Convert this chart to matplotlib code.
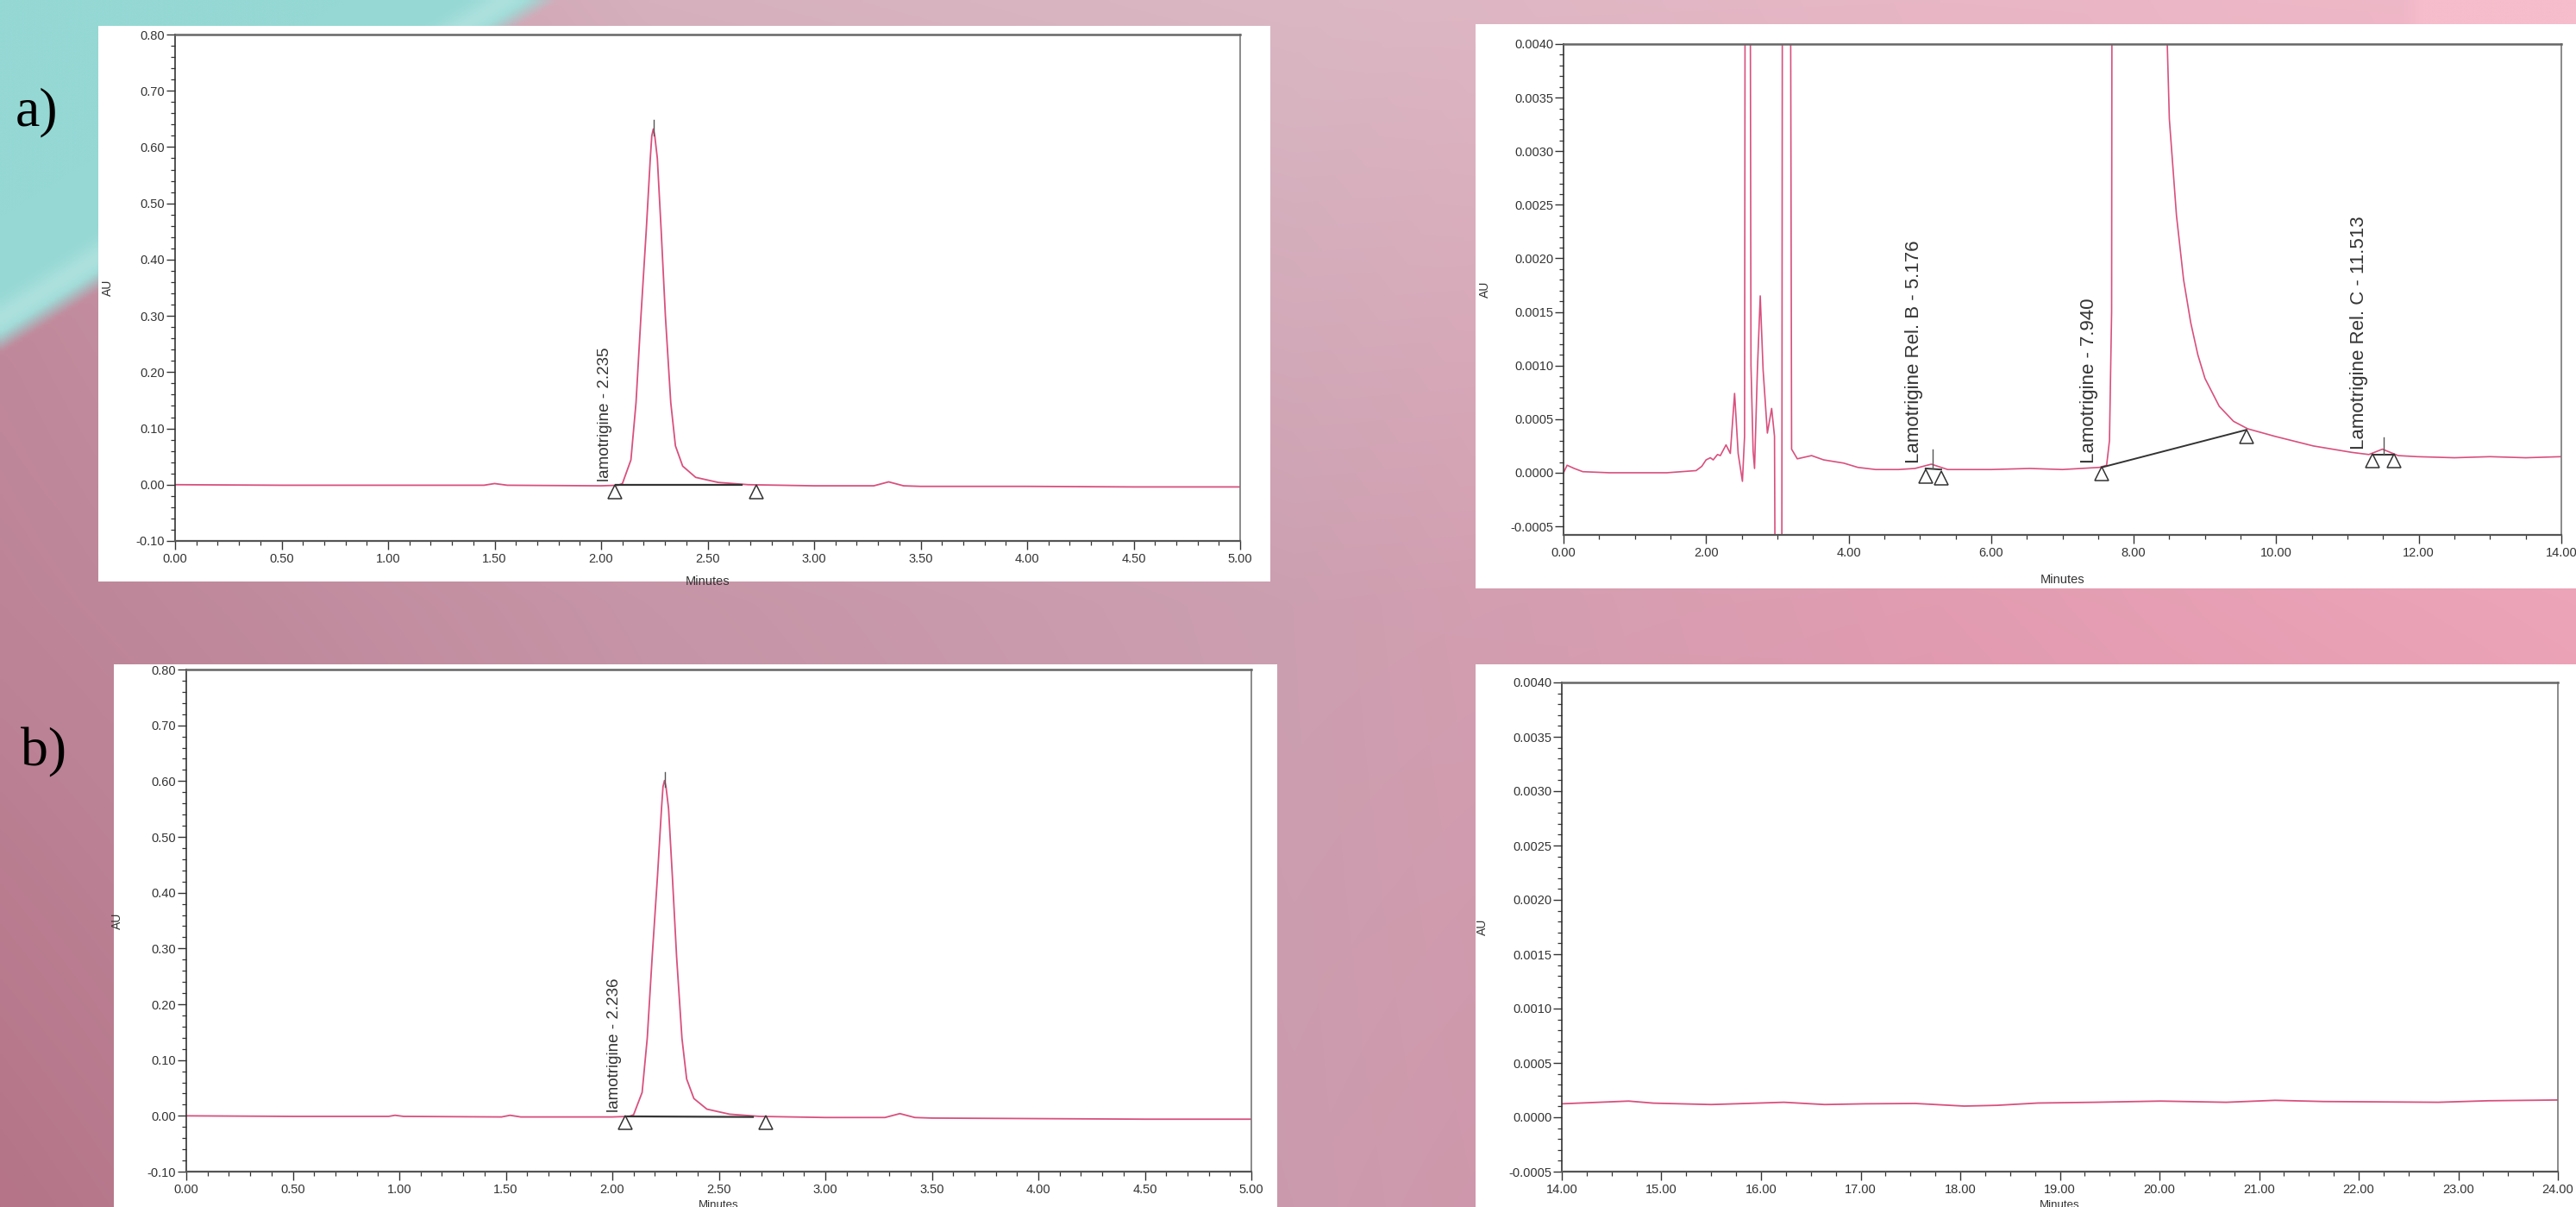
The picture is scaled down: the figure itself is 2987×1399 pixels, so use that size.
import matplotlib
matplotlib.use('Agg')
import matplotlib.pyplot as plt
from matplotlib.patches import Rectangle
from matplotlib.ticker import MultipleLocator, FormatStrFormatter
import numpy as np

W, H = 2987, 1399

# ---- a) left : sample run, 0-5 min ----
t_a = [0.00, 0.50, 1.00, 1.45, 1.50, 1.56, 2.00, 2.08, 2.10, 2.14, 2.164, 2.187, 2.212, 2.231,
       2.238, 2.245, 2.252, 2.264, 2.282, 2.302, 2.327, 2.349, 2.383, 2.444, 2.55, 2.69,
       3.00, 3.28, 3.35, 3.42, 3.50, 4.00, 4.50, 5.00]
au_a = [0.000, -0.001, -0.001, -0.001, 0.002, -0.001, -0.002, -0.001, 0.002, 0.044, 0.146, 0.299,
        0.452, 0.580, 0.620, 0.632, 0.620, 0.580, 0.452, 0.299, 0.146, 0.069, 0.033, 0.013,
        0.004, 0.000, -0.002, -0.002, 0.005, -0.002, -0.003, -0.003, -0.004, -0.004]
label_a = 'lamotrigine - 2.235'
label_pos_a = (2.02, 0.006)
tri_t_a = [2.065, 2.73]
tri_au_a = [-0.013, -0.013]
base_t_a = [2.07, 2.66]
base_au_a = [-0.001, -0.001]
apex_a = (2.245, 0.620, 0.648)

# ---- b) left : second run, 0-5 min ----
t_b = [0.00, 0.50, 0.95, 0.98, 1.02, 1.48, 1.52, 1.57, 2.00, 2.08, 2.10, 2.14, 2.164, 2.187,
       2.212, 2.231, 2.238, 2.245, 2.252, 2.264, 2.282, 2.302, 2.327, 2.349, 2.383, 2.444,
       2.55, 2.69, 3.00, 3.28, 3.35, 3.42, 3.50, 4.00, 4.50, 5.00]
au_b = [0.000, -0.001, -0.001, 0.001, -0.001, -0.002, 0.001, -0.002, -0.002, -0.001, 0.002, 0.042,
        0.139, 0.284, 0.429, 0.551, 0.590, 0.601, 0.590, 0.551, 0.429, 0.284, 0.139, 0.066,
        0.031, 0.012, 0.003, -0.001, -0.003, -0.003, 0.004, -0.003, -0.004, -0.005, -0.006, -0.006]
label_b = 'lamotrigine - 2.236'
label_pos_b = (2.01, 0.006)
tri_t_b = [2.06, 2.72]
tri_au_b = [-0.012, -0.012]
base_t_b = [2.07, 2.66]
base_au_b = [-0.001, -0.002]
apex_b = (2.245, 0.590, 0.616)

# ---- a) right : impurities, 0-14 min ----
t_c = [0.00, 0.05, 0.15, 0.27, 0.64, 1.45, 1.86, 1.94, 2.00, 2.06, 2.10, 2.16, 2.20, 2.28, 2.34,
       2.40, 2.45, 2.51, 2.54, 2.56, 2.60, 2.63, 2.66, 2.68, 2.72, 2.76, 2.80, 2.86, 2.92, 2.96,
       2.98, 3.06, 3.08, 3.16, 3.20, 3.28, 3.48, 3.65, 3.93, 4.13, 4.38, 4.70, 4.93, 5.16, 5.39,
       6.00, 6.54, 7.00, 7.52, 7.62, 7.66, 7.69, 7.72, 8.40, 8.45, 8.50, 8.60, 8.70, 8.80, 8.90,
       9.00, 9.20, 9.40, 9.60, 9.98, 10.52, 11.06, 11.30, 11.49, 11.71, 11.98, 12.50, 13.00,
       13.50, 14.00]
au_c = [0.00000, 0.00007, 0.00004, 0.00001, 0.00000, 0.00000, 0.00002, 0.00006, 0.00012, 0.00014,
        0.00012, 0.00017, 0.00016, 0.00026, 0.00018, 0.00074, 0.00018, -0.00008, 0.00034, 0.01200,
        0.01200, 0.00100, 0.00020, 0.00004, 0.00096, 0.00165, 0.00096, 0.00037, 0.00060, 0.00034,
        -0.00300, -0.00300, 0.01200, 0.01200, 0.00022, 0.00013, 0.00016, 0.00012, 0.00009, 0.00005,
        0.00003, 0.00003, 0.00004, 0.00008, 0.00003, 0.00003, 0.00004, 0.00003, 0.00005, 0.00007,
        0.00030, 0.00150, 0.02000, 0.02000, 0.00450, 0.00330, 0.00240, 0.00180, 0.00140, 0.00110,
        0.00088, 0.00062, 0.00048, 0.00041, 0.00034, 0.00025, 0.00019, 0.00017, 0.00022, 0.00016,
        0.00015, 0.00014, 0.00015, 0.00014, 0.00015]
labels_c = ['Lamotrigine Rel. B - 5.176', 'Lamotrigine - 7.940', 'Lamotrigine Rel. C - 11.513']
label_t_c = [4.92, 7.37, 11.16]
label_au_c = [0.00009, 0.00009, 0.00022]
tri_t_c = [5.08, 5.30, 7.55, 9.58, 11.35, 11.65]
tri_au_c = [-0.00003, -0.00005, -0.00001, 0.00034, 0.00011, 0.00011]
base_t_c = [[5.08, 5.30], [7.55, 9.58], [11.35, 11.65]]
base_au_c = [[0.00004, 0.00003], [0.00005, 0.00040], [0.00017, 0.00017]]
apex_c = [(5.176, 0.00004, 0.00022), (11.513, 0.00017, 0.00033)]

# ---- b) right : blank, 14-24 min ----
t_d = [14.00, 14.67, 14.92, 15.50, 16.23, 16.64, 17.05, 17.55, 18.04, 18.37, 18.78, 19.35,
       20.01, 20.67, 21.16, 21.65, 22.15, 22.80, 23.30, 24.00]
au_d = [0.000124, 0.000149, 0.000130, 0.000117, 0.000138, 0.000117, 0.000124, 0.000127, 0.000103,
        0.000110, 0.000131, 0.000138, 0.000149, 0.000138, 0.000156, 0.000145, 0.000142, 0.000138,
        0.000152, 0.000159]

TRACE = '#d9507f'
INK = '#333333'

plt.rcParams['font.family'] = ['Liberation Sans', 'DejaVu Sans']

fig = plt.figure(figsize=(W / 100, H / 100), dpi=100)


# background: pink/mauve gradient with a teal corner
def hex2rgb(h):
    return np.array([int(h[i:i + 2], 16) for i in (1, 3, 5)]) / 255.0


gx = [0, 750, 1500, 2250, 2987]
gy = [0, 700, 1399]
grid = [['#c48fa0', '#d6b0bd', '#dab7c3', '#e8b6c5', '#f1b8c8'],
        ['#bd8497', '#c695a7', '#cc9fb0', '#e29cb1', '#eca4b8'],
        ['#b57488', '#c08c9f', '#cb9bad', '#d98fa7', '#e498ae']]
G = np.array([[hex2rgb(c) for c in row] for row in grid])
xs = np.linspace(0, W, 600)
ys = np.linspace(0, H, 280)
img = np.zeros((len(ys), len(xs), 3))
for k in range(3):
    rows = np.array([np.interp(xs, gx, G[r, :, k]) for r in range(3)])
    img[:, :, k] = np.array([np.interp(ys, gy, rows[:, i]) for i in range(len(xs))]).T
X, Y = np.meshgrid(xs, ys)
d = X / 625 + Y / 395
w = np.clip((1.0 - d) / 0.06 + 0.5, 0, 1)
teal = hex2rgb('#95d8d4')
img = img * (1 - w[..., None]) + teal * w[..., None]
stripe = 0.22 * np.exp(-((d - 0.93) / 0.05) ** 2)
img = img + (1 - img) * stripe[..., None]
corner = np.clip((X - 2790) / 20, 0, 1) * (Y < 60)
img = img * (1 - corner[..., None]) + hex2rgb('#f6bdcc') * corner[..., None]

ax_bg = fig.add_axes([0, 0, 1, 1])
ax_bg.imshow(img, extent=[0, W, H, 0], aspect='auto', interpolation='bilinear')
ax_bg.axis('off')
ax_bg.set_zorder(-2)


def card(x0, y0, x1, y1):
    fig.add_artist(Rectangle((x0 / W, 1 - y1 / H), (x1 - x0) / W, (y1 - y0) / H,
                             transform=fig.transFigure, facecolor='white',
                             edgecolor='none', zorder=-1))


def add_ax(x0, y0, x1, y1):
    return fig.add_axes([x0 / W, 1 - y1 / H, (x1 - x0) / W, (y1 - y0) / H])


def style(ax, box, xlim, ylim, xstep, xminor, ystep, yminor, xfmt, yfmt, ylab_px, xlab_px,
          xlab_size=10.5):
    x0, y0, x1, y1 = box
    ax.set_xlim(xlim)
    ax.set_ylim(ylim)
    ax.xaxis.set_major_locator(MultipleLocator(xstep))
    ax.xaxis.set_minor_locator(MultipleLocator(xminor))
    ax.yaxis.set_major_locator(MultipleLocator(ystep))
    ax.yaxis.set_minor_locator(MultipleLocator(yminor))
    ax.xaxis.set_major_formatter(FormatStrFormatter(xfmt))
    ax.yaxis.set_major_formatter(FormatStrFormatter(yfmt))
    ax.tick_params(which='major', direction='out', length=7, width=1.0, color=INK,
                   labelsize=10.5, labelcolor=INK, pad=1.5)
    ax.tick_params(which='minor', direction='out', length=3.5, width=0.9, color=INK)
    ax.tick_params(axis='x', which='major', pad=3)
    ax.spines['left'].set_color(INK)
    ax.spines['left'].set_linewidth(1.2)
    ax.spines['bottom'].set_color('#555555')
    ax.spines['bottom'].set_linewidth(1.6)
    ax.spines['top'].set_color('#666666')
    ax.spines['top'].set_linewidth(1.8)
    ax.spines['right'].set_color('#777777')
    ax.spines['right'].set_linewidth(1.2)
    ax.set_ylabel('AU', fontsize=10, color=INK)
    ax.yaxis.set_label_coords((ylab_px - x0) / (x1 - x0), 0.5)
    ax.set_xlabel('Minutes', fontsize=xlab_size, color=INK)
    ax.xaxis.set_label_coords(0.5, (y1 - xlab_px) / (y1 - y0))


def marks(ax, tri_t, tri_au, ms):
    ax.plot(tri_t, tri_au, linestyle='none', marker='^', ms=ms, mfc='none',
            mec=INK, mew=1.1, clip_on=False, zorder=4)


# a) left
card(114, 30, 1473, 674)
box = (203, 40, 1438, 627)
ax1 = add_ax(*box)
ax1.plot(t_a, au_a, color=TRACE, lw=1.3)
ax1.plot(base_t_a, base_au_a, color=INK, lw=1.6)
ax1.plot([apex_a[0], apex_a[0]], apex_a[1:], color='#555555', lw=1)
marks(ax1, tri_t_a, tri_au_a, 12)
ax1.text(label_pos_a[0], label_pos_a[1], label_a, rotation=90, ha='center', va='bottom',
         fontsize=13.5, color=INK)
style(ax1, box, (0, 5), (-0.10, 0.80), 0.5, 0.1, 0.1, 0.02, '%.2f', '%.2f', 132, 667)

# a) right
card(1711, 28, 2987, 682)
box = (1813, 51, 2970, 620)
ax2 = add_ax(*box)
ax2.plot(t_c, au_c, color=TRACE, lw=1.2)
for bt, ba in zip(base_t_c, base_au_c):
    ax2.plot(bt, ba, color=INK, lw=1.4)
for tt, lo, hi in apex_c:
    ax2.plot([tt, tt], [lo, hi], color='#555555', lw=1)
marks(ax2, tri_t_c, tri_au_c, 11)
for lab, lt, la in zip(labels_c, label_t_c, label_au_c):
    ax2.text(lt, la, lab, rotation=90, ha='center', va='bottom', fontsize=16, color=INK)
style(ax2, box, (0, 14), (-0.00058, 0.0040), 2, 0.5, 0.0005, 0.0001, '%.2f', '%.4f', 1729, 665)

# b) left
card(132, 770, 1481, 1399)
box = (216, 776, 1451, 1358)
ax3 = add_ax(*box)
ax3.plot(t_b, au_b, color=TRACE, lw=1.3)
ax3.plot(base_t_b, base_au_b, color=INK, lw=1.6)
ax3.plot([apex_b[0], apex_b[0]], apex_b[1:], color='#555555', lw=1)
marks(ax3, tri_t_b, tri_au_b, 12)
ax3.text(label_pos_b[0], label_pos_b[1], label_b, rotation=90, ha='center', va='bottom',
         fontsize=13.5, color=INK)
style(ax3, box, (0, 5), (-0.10, 0.80), 0.5, 0.1, 0.1, 0.02, '%.2f', '%.2f', 143, 1391,
      xlab_size=9.5)

# b) right
card(1711, 770, 2987, 1399)
box = (1811, 791, 2966, 1358)
ax4 = add_ax(*box)
ax4.plot(t_d, au_d, color=TRACE, lw=1.3)
style(ax4, box, (14, 24), (-0.0005, 0.0040), 1, 0.25, 0.0005, 0.0001, '%.2f', '%.4f', 1726, 1391,
      xlab_size=9.5)

# panel letters
fig.text(43 / W, 1 - 130 / H, 'a)', fontsize=46, family='Liberation Serif',
         ha='center', va='center', color='black')
fig.text(50 / W, 1 - 872 / H, 'b)', fontsize=46, family='Liberation Serif',
         ha='center', va='center', color='black')

fig.savefig('out.png', dpi=100)
